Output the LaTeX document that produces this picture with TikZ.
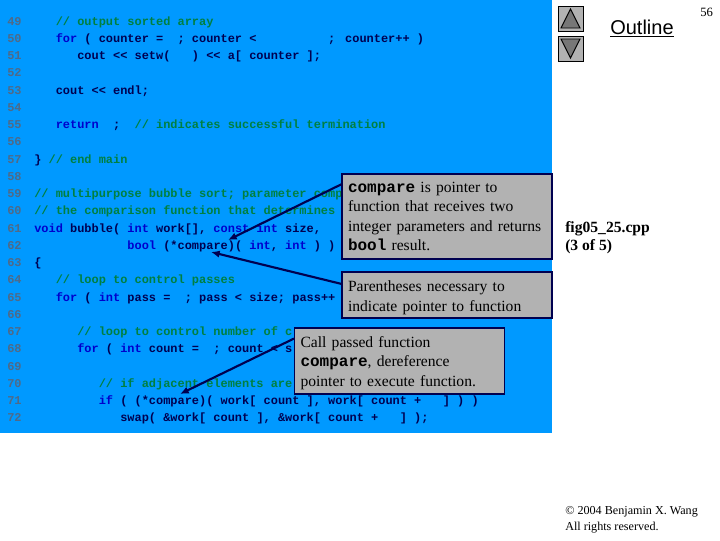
\documentclass[tikz,border=0pt]{standalone}
\usepackage{fontspec}
\usetikzlibrary{arrows.meta}
\setmainfont{Liberation Serif}
\newfontfamily\codef{Liberation Mono}[BoldFont={Liberation Mono Bold}]
\newfontfamily\sansf{Liberation Sans}
\definecolor{panel}{HTML}{0099FF}
\definecolor{boxgray}{HTML}{B2B2B2}
\definecolor{navy}{HTML}{000050}
\definecolor{kw}{HTML}{0000CC}
\definecolor{cm}{HTML}{008040}
\definecolor{ln}{HTML}{4F6A88}
\definecolor{tri}{HTML}{777777}
\newcommand\K[1]{\textcolor{kw}{#1}}
\newcommand\G[1]{\textcolor{cm}{#1}}
\newcommand\B[1]{{\codef\bfseries\fontsize{12}{14.5}\selectfont #1}}
\newcommand\codeln[3]{\node[code] (c#1) at ({34+7.17*#2},{25+17.26*(#1-49)}) {#3};}
\tikzset{
  code/.style={anchor=base west,inner sep=0pt,text=navy,font=\codef\bfseries\fontsize{8.96}{10}\selectfont},
  lnum/.style={anchor=base west,inner sep=0pt,text=ln,font=\codef\bfseries\fontsize{8.96}{10}\selectfont},
  callout/.style={draw=navy,line width=0.8pt,fill=boxgray,inner xsep=4.5pt,inner ysep=0pt,minimum width=157.5pt,text width=148.5pt,align=left,font=\fontsize{11.7}{14.5}\selectfont},
  pointer/.style={draw=navy,line width=1.6pt,-{Latex[length=6.5pt,width=5.5pt]}},
  btn/.style={draw=black,line width=0.7pt,fill=boxgray},
  arrowtri/.style={draw=black,line width=0.7pt,fill=tri},
  side/.style={anchor=north west,inner sep=0pt,align=left}
}
\begin{document}
\begin{tikzpicture}[x=0.75pt,y=-0.75pt]
\useasboundingbox (0,0) rectangle (720,540);
\fill[white] (0,0) rectangle (720,540);
\fill[panel] (0,0) rectangle (552,433);
\foreach \n in {49,...,72}{
  \node[lnum] (n\n) at (7,{25+17.26*(\n-49)}) {\n};
}
\codeln{49}{3}{\G{//~output~sorted~array}}
\codeln{50}{3}{\K{for}~(~counter~=~~;~counter~<~~~~~~~~~~;\kern2pt~counter++~)}
\codeln{51}{6}{cout~<{}<~setw(~~~)~<{}<~a[~counter~];}
\codeln{53}{3}{cout~<{}<~endl;}
\codeln{55}{3}{\K{return}~~;~~\G{//~indicates~successful~termination}}
\codeln{57}{0}{\}~\G{//~end~main}}
\codeln{59}{0}{\G{//~multipurpose~bubble~sort;~parameter~comp}}
\codeln{60}{0}{\G{//~the~comparison~function~that~determines}}
\codeln{61}{0}{\K{void}~bubble(~\K{int}~work[],~\K{const}~\K{int}~size,}
\codeln{62}{13}{\K{bool}~(*compare)(~\K{int},~\K{int}~)~)}
\codeln{63}{0}{\{}
\codeln{64}{3}{\G{//~loop~to~control~passes}}
\codeln{65}{3}{\K{for}~(~\K{int}~pass~=~~;~pass~<~size;~pass++}
\codeln{67}{6}{\G{//~loop~to~control~number~of~c}}
\codeln{68}{6}{\K{for}~(~\K{int}~count~=~~;~count~<~s}
\codeln{70}{9}{\G{//~if~adjacent~elements~are}}
\codeln{71}{9}{\K{if}~(~(*compare)(~work[~count~],~work[~count~+~~~]~)~)}
\codeln{72}{12}{swap(~\&work[~count~],~\&work[~count~+~~~]~);}
\node[callout,minimum height=63.75pt] (box1) at (447,216.5) {\B{compare} is pointer to\\function that receives two\\integer parameters and returns\\\B{bool} result.};
\node[callout,minimum height=34.5pt] (box2) at (447,295) {\rule{0pt}{12pt}Parentheses necessary to\\indicate pointer to function};
\node[callout,minimum height=49.5pt] (box3) at (399.5,361) {\rule{0pt}{11pt}Call passed function\\\B{compare}, dereference\\pointer to execute function.};
\coordinate (t1) at (228,240);
\coordinate (t2) at (211,252);
\coordinate (t3) at (180,394);
\draw[pointer] (box1.163.8) -- (t1);
\draw[pointer] (box2.174) -- (t2);
\draw[pointer] (box3.168.7) -- (t3);
\draw[btn] (558,6) rectangle (583,31);
\draw[arrowtri] (570.5,9) -- (580,28) -- (561,28) -- cycle;
\draw[btn] (558,36) rectangle (583,61);
\draw[arrowtri] (570.5,58) -- (580,39) -- (561,39) -- cycle;
\node[side,anchor=base west,font=\sansf\fontsize{15}{17}\selectfont] (outline) at (610,34) {\underline{Outline}};
\node[side,anchor=base west,font=\fontsize{9.5}{11}\selectfont] (page) at (700,16) {56};
\node[side,font=\bfseries\fontsize{11.7}{13.5}\selectfont] (fig) at (565,221) {fig05\_25.cpp\\(3 of 5)};
\node[side,font=\fontsize{9.1}{12}\selectfont] (copy) at (565,506) {© 2004 Benjamin X. Wang\\All rights reserved.};
\end{tikzpicture}
\end{document}
